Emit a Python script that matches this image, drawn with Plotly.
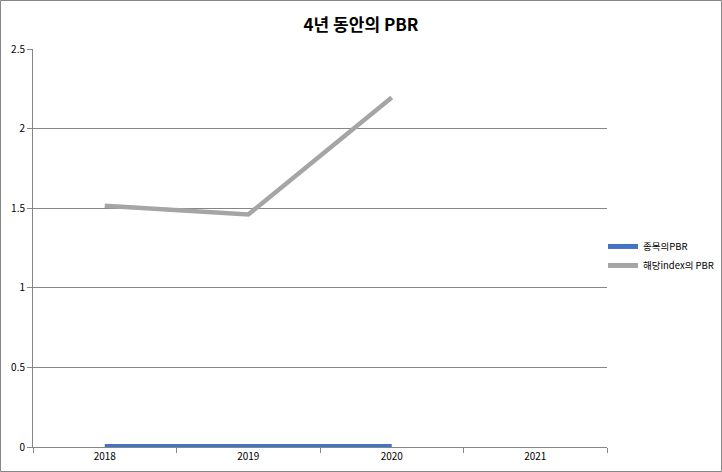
import plotly.graph_objects as go

years = ["2018", "2019", "2020", "2021"]
stock_pbr = [0, 0, 0, None]
index_pbr = [1.515, 1.46, 2.195, None]
series_names = ["종목의PBR", "해당index의 PBR"]
y_ticks = [0, 0.5, 1, 1.5, 2, 2.5]
y_labels = ["0", "0.5", "1", "1.5", "2", "2.5"]

W, H = 722, 472
L, R, T, B = 33, 115, 49, 25
pw, ph = W - L - R, H - T - B

fig = go.Figure()
fig.add_trace(go.Scatter(x=years, y=stock_pbr, mode="lines", name=series_names[0],
                         line=dict(color="#4472C4", width=6), cliponaxis=False))
fig.add_trace(go.Scatter(x=years, y=index_pbr, mode="lines", name=series_names[1],
                         line=dict(color="#A5A5A5", width=4.5), cliponaxis=False))

fig.update_layout(
    width=W, height=H,
    margin=dict(l=L, r=R, t=T, b=B, autoexpand=False),
    paper_bgcolor="white", plot_bgcolor="white",
    font=dict(family="Noto Sans CJK KR, sans-serif", size=10, color="black"),
    title=dict(text="<b>4년 동안의 PBR</b>", x=0.5, xanchor="center", y=0.947, yanchor="middle",
               font=dict(size=17, family="Noto Sans CJK KR, sans-serif")),
    legend=dict(x=0.993, xanchor="left", y=0.48, yanchor="middle", font=dict(size=9.5),
                bgcolor="rgba(0,0,0,0)", tracegroupgap=0, itemsizing="constant"),
    showlegend=True,
)
fig.update_xaxes(type="category", categoryorder="array", categoryarray=years,
                 range=[-0.5, 3.5], showline=True, linecolor="#868686", linewidth=1,
                 ticks="outside", tickson="boundaries", ticklen=5, tickcolor="#868686",
                 showgrid=False, tickfont=dict(size=10))
fig.update_yaxes(range=[0, 2.5], tickvals=y_ticks, ticktext=y_labels,
                 showline=True, linecolor="#868686", linewidth=1,
                 ticks="outside", ticklen=5, tickcolor="#868686",
                 showgrid=True, gridcolor="#868686", gridwidth=1, zeroline=False,
                 tickfont=dict(size=10))

fig.add_shape(type="rect", xref="paper", yref="paper",
              x0=-(L - 0.5) / pw, x1=(W - L - 0.5) / pw,
              y0=-(B - 0.5) / ph, y1=(H - B - 0.5) / ph,
              line=dict(color="#868686", width=1), fillcolor="rgba(0,0,0,0)", layer="below")

fig.write_html("out.html", config={"displayModeBar": False},
               post_script="document.body.style.margin='0';document.body.style.padding='0';")
